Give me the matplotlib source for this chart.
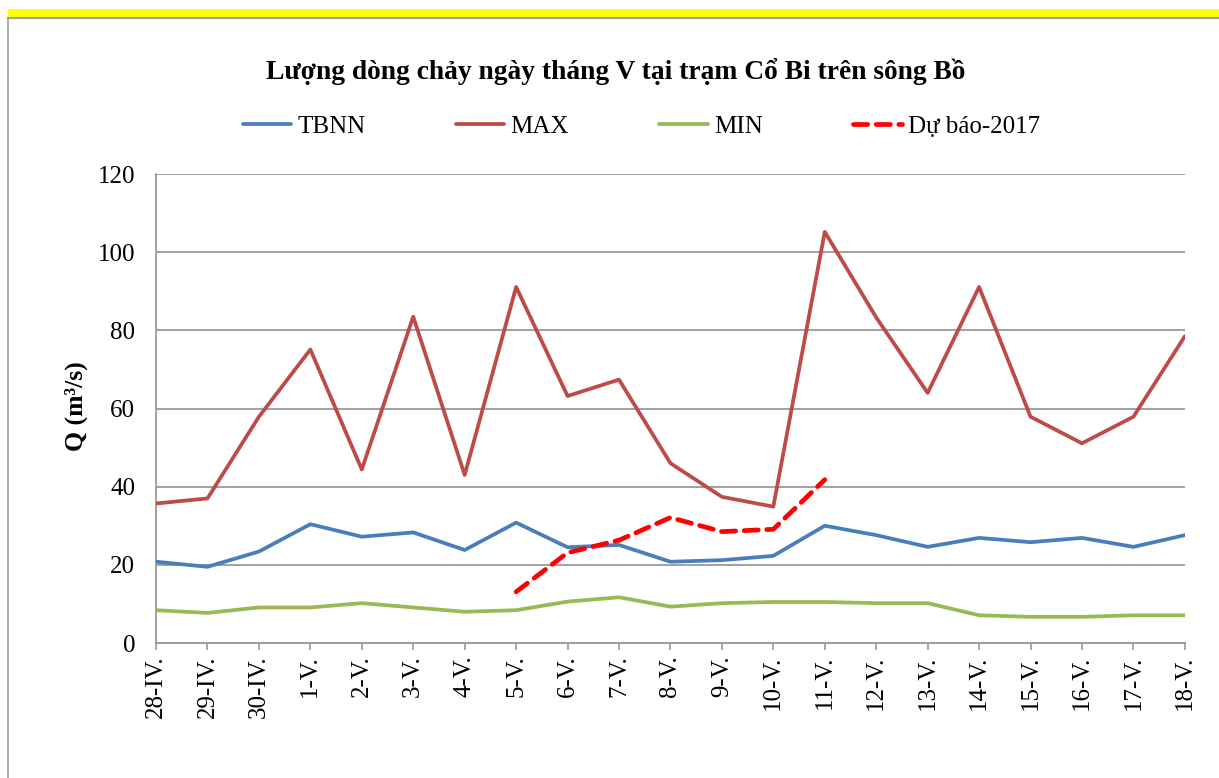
# Daily discharge in May at Co Bi station (Bo river) -------------------

# Libraries
import matplotlib
matplotlib.use("Agg")

import matplotlib.pyplot as plt
from matplotlib.patches import Rectangle
from matplotlib.lines import Line2D


# Data -----------------------------------------------------------------
days = ["28-IV.", "29-IV.", "30-IV.", "1-V.", "2-V.", "3-V.", "4-V.",
        "5-V.", "6-V.", "7-V.", "8-V.", "9-V.", "10-V.", "11-V.", "12-V.",
        "13-V.", "14-V.", "15-V.", "16-V.", "17-V.", "18-V."]

tbnn = [20.8, 19.5, 23.4, 30.4, 27.2, 28.3, 23.8, 30.8, 24.5, 25.1, 20.8,
        21.2, 22.3, 30.0, 27.6, 24.6, 26.9, 25.8, 26.9, 24.6, 27.6]

q_max = [35.7, 37.0, 57.9, 75.1, 44.4, 83.5, 43.0, 91.1, 63.2, 67.4, 46.0,
         37.4, 34.9, 105.2, 83.3, 64.0, 91.1, 57.9, 51.1, 57.9, 78.5]

q_min = [8.4, 7.7, 9.1, 9.1, 10.2, 9.1, 8.0, 8.4, 10.6, 11.7, 9.3,
         10.2, 10.5, 10.5, 10.2, 10.2, 7.1, 6.7, 6.7, 7.1, 7.1]

# forecast only from 5-V to 11-V
forecast_days = ["5-V.", "6-V.", "7-V.", "8-V.", "9-V.", "10-V.", "11-V."]
forecast = [13.1, 23.1, 26.3, 32.1, 28.5, 29.1, 41.8]

title = "Lượng dòng chảy ngày tháng V tại trạm Cổ Bi trên sông Bồ"
y_label = "Q (m³/s)"
y_ticks = [0, 20, 40, 60, 80, 100, 120]


# RC Params
plt.rcParams["font.family"] = ["Liberation Serif", "DejaVu Serif"]
plt.rcParams["figure.dpi"] = 100


# Plot -----------------------------------------------------------------
fig = plt.figure(figsize=[12.19, 7.78])
ax = fig.add_axes([0.128, 0.1735, 0.844, 0.6028])

x = list(range(len(days)))
x_fc = [days.index(d) for d in forecast_days]

ax.plot(x, tbnn, color="#4A7EBB", linewidth=2.7, label="TBNN",
        solid_capstyle="round", solid_joinstyle="round", zorder=3)
ax.plot(x, q_max, color="#BE4B48", linewidth=2.7, label="MAX",
        solid_capstyle="round", solid_joinstyle="round", zorder=3)
ax.plot(x, q_min, color="#98B954", linewidth=2.7, label="MIN",
        solid_capstyle="round", solid_joinstyle="round", zorder=3)
ax.plot(x_fc, forecast, color="#FF0000", linewidth=3.4,
        linestyle=(0, (3.0, 1.8)), dash_capstyle="round",
        label="Dự báo-2017", zorder=4)

# Axes
ax.set_xlim(0, len(days) - 1)
ax.set_ylim(0, 120)
ax.set_yticks(y_ticks)
ax.set_xticks(x)
ax.set_xticklabels(days, rotation=90, fontsize=18, va="top")
ax.tick_params(axis="y", length=0, pad=15, labelsize=18)
ax.tick_params(axis="x", length=5, width=1.2, color="#9a9a9a",
               direction="out", pad=4)

ax.grid(axis="y", color="#9a9a9a", linewidth=1.3)
ax.set_axisbelow(True)

for side in ["top", "right"]:
    ax.spines[side].set_visible(False)
for side in ["left", "bottom"]:
    ax.spines[side].set_color("#9a9a9a")
    ax.spines[side].set_linewidth(1.3)

ax.set_ylabel(y_label, fontsize=18.5, fontweight="bold")
ax.yaxis.set_label_coords(-0.066, 0.505)

# Title and legend
fig.text(0.505, 0.908, title, ha="center", va="center", fontsize=19.8,
         fontweight="bold")

fig.legend(loc="center", bbox_to_anchor=(0.526, 0.837), ncol=4,
           frameon=False, fontsize=18, handlelength=1.95,
           handletextpad=0.25, columnspacing=3.6)

# Frame (yellow bar on top, grey border)
fig.add_artist(Rectangle((8 / 1219, 1 - 17 / 778), 1 - 8 / 1219, 8 / 778,
                         transform=fig.transFigure, facecolor="#FFFF00",
                         edgecolor="none"))
fig.add_artist(Line2D([8 / 1219, 1], [1 - 18 / 778, 1 - 18 / 778],
                      transform=fig.transFigure, color="#a0a0a0",
                      linewidth=1.5))
fig.add_artist(Line2D([8 / 1219, 8 / 1219], [0, 1 - 18 / 778],
                      transform=fig.transFigure, color="#a0a0a0",
                      linewidth=1.2))


# Printing
fig.savefig("out.png", dpi=100)
plt.close(fig)
